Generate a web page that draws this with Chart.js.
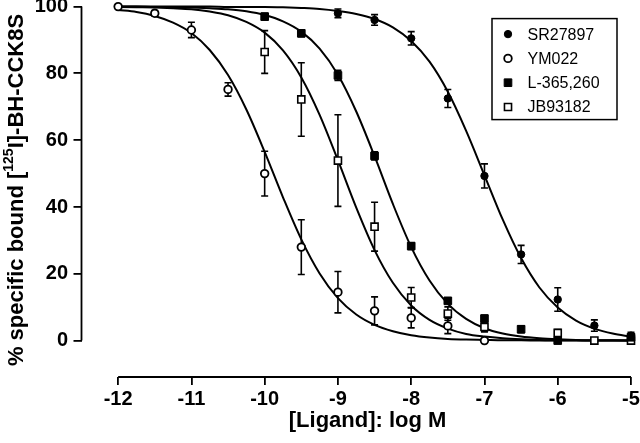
<!DOCTYPE html>
<html>
<head>
<meta charset="utf-8">
<script src="https://cdn.jsdelivr.net/npm/chart.js@4.4.1/dist/chart.umd.min.js"></script>
<style>
  html, body { margin: 0; padding: 0; background: #fff; }
  #wrap { width: 640px; height: 443px; }
</style>
</head>
<body>
<div id="wrap"><canvas id="chart"></canvas></div>
<script>
// log M concentrations of the measured points
const logConc = [-12, -11.5, -11, -10.5, -10, -9.5, -9, -8.5, -8, -7.5, -7, -6.5, -6, -5.5, -5];

// % specific bound (null = no point) and SEM
const sr27897    = [null, null, null, null, null, null, 98, 96, 90.5, 72.5, 49.3, 25.8, 12.3, 4.5, 1.5];
const sr27897Err = [0, 0, 0, 0, 0, 0, 1.3, 1.6, 2, 2.7, 3.6, 2.7, 3.5, 1.7, 1];
const ym022      = [100, 98, 93, 75.2, 50, 28, 14.5, 8.9, 6.8, 4.4, 0, null, null, null, null];
const ym022Err   = [0, 0.8, 2.3, 2, 6.7, 8.2, 6.2, 4.2, 3, 2.3, 0, 0, 0, 0, 0];
const l365260    = [null, null, null, null, 97, 92, 79.4, 55.3, 28.3, 11.9, 6.6, 3.4, 0, null, 1];
const l365260Err = [0, 0, 0, 0, 1, 1, 1.5, 1.2, 1, 0.8, 1, 1, 0.5, 0, 0.8];
const jb93182    = [null, null, null, null, 86.4, 72.2, 53.9, 34.1, 12.9, 8.1, 4.1, null, 2.3, 0, 0];
const jb93182Err = [0, 0, 0, 0, 6.4, 11, 13.7, 7.3, 3, 2, 1.5, 0, 1, 0.5, 0.5];

// fitted curves, every 0.25 log unit
const curveX = [-12, -11.75, -11.5, -11.25, -11, -10.75, -10.5, -10.25, -10, -9.75, -9.5, -9.25, -9, -8.75,
  -8.5, -8.25, -8, -7.75, -7.5, -7.25, -7, -6.75, -6.5, -6.25, -6, -5.75, -5.5, -5.25, -5];
const srCurve = [100, 100, 100, 100, 100, 100, 99.9, 99.9, 99.9, 99.8, 99.6, 99.3, 98.7, 97.8,
  96.3, 93.8, 89.7, 83.5, 74.5, 62.8, 49.5, 36.2, 24.7, 15.9, 9.9, 6.0, 3.6, 2.1, 1.2];
const ymCurve = [99.0, 98.4, 97.2, 95.2, 92.1, 87.0, 79.5, 69.2, 56.5, 42.9, 30.3, 20.1, 12.7, 7.8,
  4.7, 2.8, 1.6, 0.9, 0.5, 0.3, 0.2, 0.1, 0.1, 0, 0, 0, 0, 0, 0];
const lCurve = [100, 100, 99.9, 99.9, 99.7, 99.5, 99.2, 98.6, 97.5, 95.6, 92.5, 87.4, 79.6, 68.6,
  55.2, 40.9, 28.0, 18.0, 11.0, 6.5, 3.7, 2.1, 1.2, 0.7, 0.4, 0.2, 0.1, 0.1, 0];
const jbCurve = [99.9, 99.8, 99.7, 99.5, 99.2, 98.5, 97.4, 95.4, 92.2, 86.9, 78.8, 67.6, 54.0, 39.8,
  27.1, 17.3, 10.5, 6.2, 3.6, 2.0, 1.2, 0.7, 0.4, 0.2, 0.1, 0.1, 0, 0, 0];

const xTicks = [-12, -11, -10, -9, -8, -7, -6, -5];
const yTicks = [0, 20, 40, 60, 80, 100];
const xTitle = '[Ligand]: log M';
const yTitleParts = ['% specific bound [', '125', 'I]-BH-CCK8S'];

const FONT = '"Liberation Sans", Arial, Helvetica, sans-serif';

function pts(xs, ys) {
  return xs.map((x, i) => ({ x: x, y: ys[i] }));
}

function markers(label, ys, errs, style, fill, r, bw) {
  return {
    label: label,
    data: pts(logConc, ys),
    errors: errs,
    showLine: false,
    pointStyle: style,
    pointRadius: r,
    pointBackgroundColor: fill,
    pointBorderColor: '#000',
    pointBorderWidth: bw,
    clip: false,
    order: 1
  };
}

function curve(ys) {
  return {
    data: pts(curveX, ys),
    borderColor: '#000',
    borderWidth: 2,
    pointRadius: 0,
    cubicInterpolationMode: 'monotone',
    clip: false,
    order: 2
  };
}

// error bars under the markers
const errorBars = {
  id: 'errorBars',
  beforeDatasetsDraw(chart) {
    const { ctx, scales: { x, y } } = chart;
    ctx.save();
    ctx.strokeStyle = '#000';
    ctx.lineWidth = 1.6;
    chart.data.datasets.forEach(ds => {
      if (!ds.errors) return;
      ds.data.forEach((p, i) => {
        const e = ds.errors[i];
        if (p.y === null || !e) return;
        const px = x.getPixelForValue(p.x);
        const top = y.getPixelForValue(p.y + e);
        const bot = y.getPixelForValue(p.y - e);
        ctx.beginPath();
        ctx.moveTo(px, top); ctx.lineTo(px, bot);
        ctx.moveTo(px - 3.5, top); ctx.lineTo(px + 3.5, top);
        ctx.moveTo(px - 3.5, bot); ctx.lineTo(px + 3.5, bot);
        ctx.stroke();
      });
    });
    ctx.restore();
  }
};

// detached axis lines, titles and boxed legend
const frame = {
  id: 'frame',
  afterDraw(chart) {
    const { ctx, chartArea: a, scales: { x, y } } = chart;
    ctx.save();
    ctx.strokeStyle = '#000';
    ctx.fillStyle = '#000';
    ctx.lineWidth = 1.8;
    ctx.beginPath();
    ctx.moveTo(a.left, y.getPixelForValue(yTicks[0]));
    ctx.lineTo(a.left, y.getPixelForValue(yTicks[yTicks.length - 1]));
    const x0 = x.getPixelForValue(xTicks[0]);
    const x1 = x.getPixelForValue(xTicks[xTicks.length - 1]);
    ctx.moveTo(x0, a.bottom);
    ctx.lineTo(x1, a.bottom);
    ctx.stroke();

    // x title
    ctx.font = 'bold 22px ' + FONT;
    ctx.textAlign = 'center';
    ctx.textBaseline = 'alphabetic';
    ctx.fillText(xTitle, (x0 + x1) / 2 - 7, 427);

    // y title with superscript 125
    const big = 'bold 22px ' + FONT, small = 'bold 14px ' + FONT;
    ctx.font = big;
    const w0 = ctx.measureText(yTitleParts[0]).width;
    const w2 = ctx.measureText(yTitleParts[2]).width;
    ctx.font = small;
    const w1 = ctx.measureText(yTitleParts[1]).width;
    const total = w0 + w1 + w2;
    ctx.translate(22.5, 190);
    ctx.rotate(-Math.PI / 2);
    ctx.textAlign = 'left';
    let cx = -total / 2;
    ctx.font = big;
    ctx.fillText(yTitleParts[0], cx, 0);
    cx += w0;
    ctx.font = small;
    ctx.fillText(yTitleParts[1], cx, -9.5);
    cx += w1;
    ctx.font = big;
    ctx.fillText(yTitleParts[2], cx, 0);
    ctx.setTransform(1, 0, 0, 1, 0, 0);

    // legend
    const boxW = 125, boxH = 101;
    const bx = a.right - 14 - boxW, by = a.top + 12;
    ctx.lineWidth = 1.5;
    ctx.strokeRect(bx, by, boxW, boxH);
    ctx.font = '16px ' + FONT;
    ctx.textAlign = 'left';
    ctx.textBaseline = 'middle';
    const items = chart.data.datasets.filter(ds => ds.label);
    items.forEach((ds, i) => {
      const my = by + 15.5 + i * 24.3;
      const mx = bx + 16;
      ctx.fillStyle = ds.pointBackgroundColor;
      ctx.strokeStyle = ds.pointBorderColor;
      ctx.lineWidth = ds.pointBorderWidth;
      Chart.helpers.drawPoint(ctx, {
        pointStyle: ds.pointStyle, radius: ds.pointRadius, rotation: 0, borderWidth: ds.pointBorderWidth
      }, mx, my);
      ctx.fillStyle = '#000';
      ctx.fillText(ds.label, mx + 19.5, my + 1);
    });
    ctx.restore();
  }
};

Chart.defaults.color = '#000';
Chart.defaults.font.family = FONT;

new Chart(document.getElementById('chart'), {
  type: 'line',
  data: {
    datasets: [
      markers('SR27897', sr27897, sr27897Err, 'circle', '#000', 3.7, 1),
      markers('YM022', ym022, ym022Err, 'circle', '#fff', 3.8, 1.8),
      markers('L-365,260', l365260, l365260Err, 'rect', '#000', 5.4, 1),
      markers('JB93182', jb93182, jb93182Err, 'rect', '#fff', 5, 1.6),
      curve(srCurve),
      curve(ymCurve),
      curve(lCurve),
      curve(jbCurve)
    ]
  },
  options: {
    responsive: true,
    maintainAspectRatio: false,
    animation: false,
    devicePixelRatio: 1,
    events: [],
    layout: { padding: { left: 0, top: 5, right: 9, bottom: 0 } },
    plugins: { legend: { display: false }, tooltip: { enabled: false } },
    scales: {
      x: {
        type: 'linear',
        min: -12.5,
        max: -5,
        afterBuildTicks: s => { s.ticks = xTicks.map(v => ({ value: v })); },
        afterFit: s => { s.height = 66; s.paddingLeft = 0; s.paddingRight = 0; },
        grid: { drawOnChartArea: false, drawTicks: true, tickLength: 8, color: '#000', lineWidth: 1.8 },
        border: { display: false },
        ticks: { font: { size: 20, weight: 'bold' }, padding: 2, maxRotation: 0, autoSkip: false }
      },
      y: {
        type: 'linear',
        min: -10.9,
        max: 100,
        afterBuildTicks: s => { s.ticks = yTicks.map(v => ({ value: v })); },
        afterFit: s => { s.width = 81.5; s.paddingTop = 0; s.paddingBottom = 0; },
        grid: { drawOnChartArea: false, drawTicks: true, tickLength: 8, color: '#000', lineWidth: 1.8 },
        border: { display: false },
        ticks: { font: { size: 20, weight: 'bold' }, padding: 5.5, autoSkip: false }
      }
    }
  },
  plugins: [errorBars, frame]
});
</script>
</body>
</html>
